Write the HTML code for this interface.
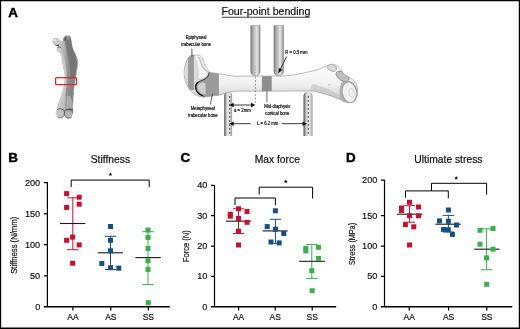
<!DOCTYPE html>
<html><head><meta charset="utf-8"><title>Figure</title>
<style>
html,body{margin:0;padding:0;background:#fff;}
body{width:520px;height:329px;overflow:hidden;position:relative;font-family:"Liberation Sans",sans-serif;}
svg{position:absolute;left:0;top:0;display:block;will-change:transform;}
text{font-family:"Liberation Sans",sans-serif;fill:#0d0d0d;stroke:#0d0d0d;stroke-width:0.18px;}
.frame{position:absolute;left:0;top:0;width:520px;height:329px;box-sizing:border-box;border-style:solid;border-color:#000;border-width:1.2px 1.3px 1.9px 1.2px;}
</style></head><body>
<svg width="520" height="329" viewBox="0 0 520 329">
<defs>
<filter id="bl" x="-10%" y="-10%" width="120%" height="120%"><feGaussianBlur stdDeviation="0.55"/></filter>
<filter id="bl2" x="-10%" y="-10%" width="120%" height="120%"><feGaussianBlur stdDeviation="0.4"/></filter>
<filter id="bt" x="-10%" y="-30%" width="120%" height="160%"><feGaussianBlur stdDeviation="0.28"/></filter>
<linearGradient id="fem" gradientUnits="userSpaceOnUse" x1="58" x2="78.5" y1="0" y2="0">
<stop offset="0" stop-color="#cdcdcd"/><stop offset="0.28" stop-color="#b4b4b4"/><stop offset="0.5" stop-color="#8e8e8e"/><stop offset="0.85" stop-color="#7e7e7e"/><stop offset="1" stop-color="#a4a4a4"/>
</linearGradient>
<linearGradient id="rod" x1="0" x2="1" y1="0" y2="0">
<stop offset="0" stop-color="#6c6c6c"/><stop offset="0.12" stop-color="#9a9a9a"/><stop offset="0.4" stop-color="#c2c2c2"/><stop offset="0.65" stop-color="#e6e6e6"/><stop offset="0.85" stop-color="#bcbcbc"/><stop offset="1" stop-color="#808080"/>
</linearGradient>
<linearGradient id="rod2" x1="0" x2="1" y1="0" y2="0">
<stop offset="0" stop-color="#4e4e4e"/><stop offset="0.14" stop-color="#858585"/><stop offset="0.3" stop-color="#cfcfcf"/><stop offset="0.6" stop-color="#ececec"/><stop offset="0.85" stop-color="#c6c6c6"/><stop offset="1" stop-color="#8a8a8a"/>
</linearGradient>
<linearGradient id="shaft" x1="0" x2="0" y1="0" y2="1">
<stop offset="0" stop-color="#f6f6f6"/><stop offset="0.35" stop-color="#fafafa"/><stop offset="0.62" stop-color="#f0f0f0"/><stop offset="0.82" stop-color="#dadada"/><stop offset="1" stop-color="#bebebe"/>
</linearGradient>
<clipPath id="fbclip"><path id="fbpath" d="M192.3 55 C188 56 184.5 63 184.1 72 C184 82 189 92 197 95.5 C201 97.5 205 97.2 208 96.6 L219 95.2 C225 93.5 229 91.6 235 91.2 L312 91 C322 92.5 332 96 340 99.5 C344 102.5 350 104 354 101.5 C358.5 98 358.5 88 355.5 82.5 C352 78 347 76.5 343.5 73.5 C341.5 69 337 64 331.5 64.2 C326 65 322 68.5 317 70 C305 72.5 295 75.5 284 76 L235 76.2 C226 75.5 217 73 209.7 72.4 C207.5 69 205 66.5 204.2 64 C203.5 59 201 55.5 198.5 55 Z"/></clipPath>
</defs>

<!-- left femur photo -->
<g filter="url(#bl)">
<path id="femp" d="M64.3 36.8 C64.8 35.8 65.2 35.3 65.8 35.2 C66.6 35.4 67.2 36 68.1 35.7 C69 35.2 70 35.8 70.4 36.8 C71 38 71.3 39.4 71.5 40.6 C71.8 42.4 71.9 44.2 72.2 46 C72.7 48 73.4 49.6 74.2 51.3 C75.2 53.4 76.2 55.4 76.9 57.4 C77.8 59.2 78.4 61 78.3 62.7 C78.2 64.8 77.7 66.8 77.2 68.8 C76.7 71 76.3 73.4 76 75.6 L75.7 77 C75.2 81.4 74.3 85.8 73.7 90 C73.5 93.4 73.4 96.8 73.4 100 C73.2 101.8 72.9 103.6 72.7 105.4 C72.8 106.8 73 108 73.1 109.2 C73.4 110.8 73.2 112.4 72.7 113.8 C72.2 115.6 71.6 116.8 70.4 117.6 C69.2 118.4 67.8 118.4 66.6 118 C65.6 117.4 64.8 116.4 64.3 115.3 C63.6 116.6 62.6 117.6 61.3 118 C60 118.4 58.6 117.8 57.5 116.8 C56.4 115.8 55.6 114.4 55.7 113 C55.8 111.4 56.4 110 57 108.7 C57.4 107 57.8 105.4 58.2 103.9 C58.9 101.8 59.7 99.8 60.5 97.8 C61.3 95.3 62.1 92.8 62.8 90.2 C63.8 86 64.6 81.6 65 77 C65 74.4 64.3 72 63.7 69.5 C63.1 66.4 62.5 63.4 61.9 60.4 C61.6 58.6 61.3 56.8 60.9 55.1 C60.6 54 60.2 53.2 59.8 52.8 C58.8 52.6 57.6 52.2 57 51.3 C56.4 50.4 56.3 49.2 56.7 48.2 C57.2 47.4 58.2 47 59 47 C58 46.6 57 46 56 45.2 C54.6 45 53.6 44.2 52.9 42.9 C52.3 42 52.3 40.8 52.6 39.9 C53 38.8 54 38 55.2 37.9 C56.3 37.7 57.4 37.8 58.2 38.4 C59 38.8 59.6 39.6 60.1 40.3 C60.7 40.9 61.4 41.3 62 41.4 C62.8 41 63.2 40 63.6 39.1 C63.9 38.3 64 37.5 64.3 36.8 Z" fill="url(#fem)"/>
<!-- darker upper right region -->
<path d="M64.6 37.2 C65.6 35.6 69.4 35.4 70.2 37.2 C71 40 71.2 43 71.8 46 C72.6 50 74.6 54 76 57.6 C77.2 60 77.6 63 77 66 C76.4 69 75.6 73 75.2 77 L70.8 77 C70.6 70 69.4 62 67.6 55 C66.4 49 64.8 42 64.6 37.2 Z" fill="#727272" opacity="0.8"/>
<path d="M75.3 77 C74.8 82 73.8 87 73.3 91 C73 96 73 101 72.6 105 L69 105 C69.8 96 70.4 86 70.8 77 Z" fill="#858585" opacity="0.7"/>
<!-- light left stripe on shaft -->
<path d="M60 53.4 C61.6 58 62.8 64 63.8 70 C64.6 75 64.8 80 64.2 85 C63.2 91 61.4 96 59.6 101 C58.6 104 57.6 107 56.8 110 L61.5 110 C63.2 103 65.4 96 66.2 89 C67 82 66.8 73 65.8 66 C65 61 63.8 56 62.6 53 Z" fill="#cfcfcf" opacity="0.75"/>
<path d="M58 104 C60 100 62 97 64 96 L70 96 C72 99 72.6 103 72.8 108 L57 109 Z" fill="#c4c4c4" opacity="0.55"/>
<!-- right rim highlight -->
<path d="M76.2 58.4 C77.6 61 77.8 64 77.2 67 C76.8 69.4 76.4 72 76 75" stroke="#b4b4b4" stroke-width="0.9" fill="none" opacity="0.9"/>
<!-- femoral head -->
<circle cx="55.6" cy="41" r="2.9" fill="#c6c6c6"/>
<circle cx="55" cy="40.2" r="1.3" fill="#e6e6e6"/>
<path d="M53.6 43.8 C55 45.2 57 45.4 58.6 44.6 L59.4 46.6 L55.6 45.6 Z" fill="#222" opacity="0.85"/>
<ellipse cx="59.3" cy="50" rx="2.3" ry="1.9" fill="#cdcdcd"/>
<path d="M57.2 47.8 C58.4 46.8 60.4 47 61.4 48.2" stroke="#444" stroke-width="0.8" fill="none" opacity="0.8"/>
<!-- trochanter notch -->
<path d="M63 38.4 L65.6 36.4 L66.2 40 L63.8 41.6 Z" fill="#555" opacity="0.6"/>
<path d="M66.4 36 L69.4 36 L69.8 39.4 L67 39.4 Z" fill="#9c9c9c" opacity="0.8"/>
<!-- condyles -->
<ellipse cx="59.7" cy="113.6" rx="3.3" ry="3.6" fill="#c3c3c3"/>
<ellipse cx="68.6" cy="114.2" rx="3.3" ry="3.4" fill="#b4b4b4"/>
<path d="M57 109.6 C59.6 108 62.6 108.8 64.4 111 C66.4 109 70 108.6 72.8 110.4" stroke="#333" stroke-width="0.9" fill="none" opacity="0.75"/>
<path d="M57.6 117 C60 118.6 62.6 118 63.8 116.2 M65.2 116.6 C67.2 118.8 70.4 118.6 72 116.6" stroke="#444" stroke-width="0.9" fill="none" opacity="0.7"/>
<path d="M64.4 111.4V115.6" stroke="#333" stroke-width="0.9" opacity="0.7"/>
<path d="M66.4 88 C66.8 95 66.4 102 65.6 108" stroke="#7d7d7d" stroke-width="1.1" fill="none" opacity="0.55"/>
<path d="M72.6 93.6l1.4 .6" stroke="#555" stroke-width="0.8"/>
</g>
<rect x="55.6" y="77.6" width="20.9" height="7.1" rx="1" ry="1" fill="none" stroke="#e3222a" stroke-width="1.3"/>

<!-- four point bending diagram -->
<g filter="url(#bl2)">
<!-- support rods -->
<path d="M224.2 136V95.4 A3.95 3.95 0 0 1 232.1 95.4 V136Z" fill="url(#rod2)"/>
<path d="M303.5 136V95.8 A4.5 4.4 0 0 1 312.5 95.8 V136Z" fill="url(#rod2)"/>
<!-- loading rods -->
<path d="M250.7 25.4V71.6 A4.7 4.4 0 0 0 260.1 71.6 V25.4Z" fill="url(#rod)" stroke="#777" stroke-width="0.4"/>
<path d="M273.9 25.4V71.4 A4.8 4.6 0 0 0 283.5 71.4 V25.4Z" fill="url(#rod)" stroke="#777" stroke-width="0.4"/>
<!-- bone -->
<use href="#fbpath" fill="url(#shaft)"/>
<g clip-path="url(#fbclip)">
<!-- epiphyseal band -->
<rect x="187.7" y="50" width="6.6" height="40" fill="#9b9b9b"/>
<path d="M184 58 H187.7 V90 H186 Z" fill="#dadada"/>
<path d="M194.3 52 H206 V80 L197.6 82.6 L195.2 88.6 L194.3 88.6 Z" fill="#f4f4f4"/>
<path d="M194.3 54 C196 58 197.4 62 198.2 66 C198.8 70 199 75 199.4 80.6 L196.4 82.8 L194.3 88 Z" fill="#d9d9d9"/>
<path d="M198.6 57 C200.4 60 201.4 63.6 202.6 66.8 C204.4 69.6 207.2 71 208.6 73.4" stroke="#c4c4c4" stroke-width="1.6" fill="none"/>
<path d="M199.6 80 C203 79.6 206.6 78 208.2 75" stroke="#bdbdbd" stroke-width="1.8" fill="none"/>
<!-- metaphyseal band -->
<path d="M208.8 72 C208 76.5 205 79.6 200.4 81 C196.4 82.4 194.6 86 196 89.6 C197.6 93.6 201.6 96.2 205 97.4 L219 96 L218.8 72 Z" fill="#9b9b9b"/>
<path d="M199.4 83.6 C202 82 204.6 82 205.4 84 L205.6 94.4 C202.4 94.6 199 92.4 197.8 89.2 C197 86.8 197.8 84.6 199.4 83.6 Z" fill="#cfcfcf"/>
<!-- mid diaphysis -->
<rect x="261.9" y="74" width="9.8" height="19" fill="#8e8e8e"/>
<!-- right end shading -->
<path d="M300 91 C314 91.6 330 95.6 341 100.4 L346 106 L298 106 Z" fill="#b4b4b4" opacity="0.55"/>
<path d="M312 84 C322 86 332 90 340 96 L342 101 C332 96 320 92.6 310 91.4 Z" fill="#c6c6c6" opacity="0.7"/>
<path d="M343 80 C339.6 84 338.6 92 340.6 99 L345 102 L346 82 Z" fill="#a9a9a9" opacity="0.8"/>
<ellipse cx="332" cy="67.9" rx="4.7" ry="3.3" fill="#dadada" stroke="#a2a2a2" stroke-width="0.7" transform="rotate(18 332 67.9)"/>
<ellipse cx="342.6" cy="76.3" rx="7.2" ry="4.2" fill="#bdbdbd" stroke="#8c8c8c" stroke-width="0.8" transform="rotate(32 342.6 76.3)"/>
<ellipse cx="349.4" cy="92.2" rx="7.3" ry="10.5" fill="#f1f1f1" stroke="#a0a0a0" stroke-width="1.3" transform="rotate(-10 349.4 92.2)"/>
<ellipse cx="351.6" cy="93" rx="2.6" ry="4.6" fill="none" stroke="#d2d2d2" stroke-width="0.9" transform="rotate(-10 351.6 93)"/>
<circle cx="329.2" cy="84.8" r="0.8" fill="#c2c2c2"/>
</g>
<!-- growth plate line -->
<path d="M209.2 72.6 C208.8 76.8 205.6 79.4 200.8 80.8 C196.8 82.2 194.8 85.8 196 89.4 C197.4 93.2 201 95.6 205 96.8" stroke="#2a2a2a" stroke-width="0.9" fill="none"/>
<path d="M198.6 81.8 C196 83.4 195 86.4 196 89.4 C197.2 92.6 199.8 94.6 202.6 95.8" stroke="#1a1a1a" stroke-width="1.3" fill="none"/>
<use href="#fbpath" fill="none" stroke="#9d9d9d" stroke-width="0.7"/>
</g>
<!-- guide lines -->
<g stroke="#222" fill="none" filter="url(#bt)">
<path d="M191.9 48.8V56.6" stroke-width="0.7"/>
<path d="M212.4 93.8L210.4 104.6" stroke-width="0.7"/>
<path d="M266.9 91.4V102" stroke-width="0.7"/>
<path d="M255.4 76.6V104.6" stroke-width="0.6" stroke-dasharray="1.8 1.7" stroke="#555"/>
<path d="M229.8 96V134" stroke-width="1" stroke-dasharray="1.9 2.1" stroke="#3a3a3a"/>
<path d="M308.2 96V134" stroke-width="1" stroke-dasharray="1.9 2.1" stroke="#3a3a3a"/>
<path d="M255.4 66V73" stroke-width="0.5" stroke-dasharray="1.2 1.8" stroke="#888"/>
<path d="M233 105H252" stroke-width="0.9"/>
<path d="M233 123.7H250.6M281.6 123.7H303.6" stroke-width="0.9"/>
<path d="M286.6 56.6L280.4 69.2" stroke-width="0.9"/>
</g>
<g fill="#111" filter="url(#bt)">
<path d="M229.3 105l4.4-2.2v4.4z"/><path d="M255.4 105l-4.4-2.2v4.4z"/>
<path d="M229.3 123.7l4.4-2.2v4.4z"/><path d="M307 123.7l-4.4-2.2v4.4z"/>
<path d="M278.3 73.4L282.3 69.8L278.7 68z"/>
</g>
<g font-size="4.85" text-anchor="middle" filter="url(#bt)" style="fill:#111">
<text transform="translate(196.1 39.2) scale(0.88 1)">Epiphyseal</text>
<text transform="translate(196.1 45.6) scale(0.88 1)">trabecular bone</text>
<text transform="translate(202.8 109.8) scale(0.88 1)">Metaphyseal</text>
<text transform="translate(202.8 116.6) scale(0.88 1)">trabecular bone</text>
<text transform="translate(277.3 108.3) scale(0.88 1)">Mid-diaphysis</text>
<text transform="translate(277.3 115) scale(0.88 1)">cortical bone</text>
<text transform="translate(242.4 112.1) scale(0.88 1)">a = 2mm</text>
<text transform="translate(267.8 124.8) scale(0.88 1)">L = 6.2 mm</text>
<text transform="translate(296.4 53.8) scale(0.88 1)">R = 0.5 mm</text>
</g>

<path d="M47.4 182.1V307.0M43.8 182.6H47.4M43.8 213.8H47.4M43.8 244.6H47.4M43.8 275.8H47.4M72.9 307.0v3.6M110.8 307.0v3.6M148.3 307.0v3.6" stroke="#000" stroke-width="1.2" fill="none"/>
<path d="M43.8 306.85H169.8" stroke="#000" stroke-width="1.5" fill="none"/>
<text x="40.199999999999996" y="185.6" font-size="9.1" text-anchor="end" >200</text>
<text x="40.199999999999996" y="216.8" font-size="9.1" text-anchor="end" >150</text>
<text x="40.199999999999996" y="247.6" font-size="9.1" text-anchor="end" >100</text>
<text x="40.199999999999996" y="278.8" font-size="9.1" text-anchor="end" >50</text>
<text x="40.199999999999996" y="310.0" font-size="9.1" text-anchor="end" >0</text>
<text x="72.9" y="320.4" font-size="8.5" text-anchor="middle" >AA</text>
<text x="110.8" y="320.4" font-size="8.5" text-anchor="middle" >AS</text>
<text x="148.3" y="320.4" font-size="8.5" text-anchor="middle" >SS</text>
<text transform="translate(16.6 245.3) rotate(-90) scale(0.81 1)" font-size="9.5" text-anchor="middle">Stiffness (N/mm)</text>
<text x="110.4" y="163" font-size="10.3" text-anchor="middle" >Stiffness</text>
<polygon points="110.40,172.40 110.96,173.63 112.30,173.78 111.30,174.69 111.58,176.02 110.40,175.35 109.22,176.02 109.50,174.69 108.50,173.78 109.84,173.63" fill="#111"/>
<path d="M71.2 187.2V180.1H149.2V187.2" stroke="#000" stroke-width="1" fill="none"/>
<path d="M72.80 197.80V249.70M67.10 197.80H78.50M67.10 249.70H78.50" stroke="#c8102e" stroke-width="1" fill="none"/>
<path d="M60.00 223.50H85.40" stroke="#1a1a1a" stroke-width="1.1" fill="none"/>
<rect x="64.10" y="191.10" width="5.0" height="5.0" fill="#c8102e"/>
<rect x="76.70" y="194.70" width="5.0" height="5.0" fill="#c8102e"/>
<rect x="76.70" y="201.70" width="5.0" height="5.0" fill="#c8102e"/>
<rect x="64.10" y="204.90" width="5.0" height="5.0" fill="#c8102e"/>
<rect x="70.10" y="234.60" width="5.0" height="5.0" fill="#c8102e"/>
<rect x="64.10" y="237.80" width="5.0" height="5.0" fill="#c8102e"/>
<rect x="76.70" y="242.40" width="5.0" height="5.0" fill="#c8102e"/>
<rect x="70.10" y="260.70" width="5.0" height="5.0" fill="#c8102e"/>
<path d="M110.50 236.30V269.50M104.80 236.30H116.20M104.80 269.50H116.20" stroke="#164f86" stroke-width="1" fill="none"/>
<path d="M97.70 252.80H123.00" stroke="#1a1a1a" stroke-width="1.1" fill="none"/>
<rect x="108.00" y="224.00" width="5.0" height="5.0" fill="#164f86"/>
<rect x="108.00" y="237.80" width="5.0" height="5.0" fill="#164f86"/>
<rect x="108.00" y="248.30" width="5.0" height="5.0" fill="#164f86"/>
<rect x="99.30" y="261.00" width="5.0" height="5.0" fill="#164f86"/>
<rect x="108.00" y="265.20" width="5.0" height="5.0" fill="#164f86"/>
<rect x="116.30" y="265.70" width="5.0" height="5.0" fill="#164f86"/>
<path d="M148.00 231.70V284.60M142.30 231.70H153.70M142.30 284.60H153.70" stroke="#39b04a" stroke-width="1" fill="none"/>
<path d="M135.40 257.60H160.80" stroke="#1a1a1a" stroke-width="1.1" fill="none"/>
<rect x="145.50" y="227.50" width="5.0" height="5.0" fill="#39b04a"/>
<rect x="145.50" y="234.90" width="5.0" height="5.0" fill="#39b04a"/>
<rect x="145.50" y="246.00" width="5.0" height="5.0" fill="#39b04a"/>
<rect x="145.50" y="258.30" width="5.0" height="5.0" fill="#39b04a"/>
<rect x="145.50" y="266.90" width="5.0" height="5.0" fill="#39b04a"/>
<rect x="145.80" y="300.20" width="5.0" height="5.0" fill="#39b04a"/>
<path d="M214.5 184.9V307.0M210.9 185.4H214.5M210.9 215.7H214.5M210.9 246.2H214.5M210.9 276.4H214.5M238.6 307.0v3.6M275.2 307.0v3.6M312.2 307.0v3.6" stroke="#000" stroke-width="1.2" fill="none"/>
<path d="M210.9 306.85H336.2" stroke="#000" stroke-width="1.5" fill="none"/>
<text x="207.3" y="188.4" font-size="9.1" text-anchor="end" >40</text>
<text x="207.3" y="218.7" font-size="9.1" text-anchor="end" >30</text>
<text x="207.3" y="249.2" font-size="9.1" text-anchor="end" >20</text>
<text x="207.3" y="279.4" font-size="9.1" text-anchor="end" >10</text>
<text x="207.3" y="310.0" font-size="9.1" text-anchor="end" >0</text>
<text x="238.6" y="320.4" font-size="8.5" text-anchor="middle" >AA</text>
<text x="275.2" y="320.4" font-size="8.5" text-anchor="middle" >AS</text>
<text x="312.2" y="320.4" font-size="8.5" text-anchor="middle" >SS</text>
<text transform="translate(188.6 246.2) rotate(-90) scale(0.8 1)" font-size="9.5" text-anchor="middle">Force (N)</text>
<text x="277.3" y="163" font-size="10.3" text-anchor="middle" >Max force</text>
<polygon points="285.80,179.60 286.36,180.83 287.70,180.98 286.70,181.89 286.98,183.22 285.80,182.55 284.62,183.22 284.90,181.89 283.90,180.98 285.24,180.83" fill="#111"/>
<path d="M235 205.2V198H275.4V205.2" stroke="#000" stroke-width="1" fill="none"/>
<path d="M259.2 194.6V187.2H312.6V198.5" stroke="#000" stroke-width="1" fill="none"/>
<path d="M238.50 208.80V233.50M232.80 208.80H244.20M232.80 233.50H244.20" stroke="#c8102e" stroke-width="1" fill="none"/>
<path d="M225.80 221.20H251.00" stroke="#1a1a1a" stroke-width="1.1" fill="none"/>
<rect x="236.00" y="206.30" width="5.0" height="5.0" fill="#c8102e"/>
<rect x="244.50" y="209.00" width="5.0" height="5.0" fill="#c8102e"/>
<rect x="227.80" y="211.70" width="5.0" height="5.0" fill="#c8102e"/>
<rect x="227.80" y="213.70" width="5.0" height="5.0" fill="#c8102e"/>
<rect x="236.00" y="216.00" width="5.0" height="5.0" fill="#c8102e"/>
<rect x="244.50" y="219.80" width="5.0" height="5.0" fill="#c8102e"/>
<rect x="236.00" y="228.70" width="5.0" height="5.0" fill="#c8102e"/>
<rect x="236.00" y="242.50" width="5.0" height="5.0" fill="#c8102e"/>
<path d="M275.40 219.30V243.40M269.70 219.30H281.10M269.70 243.40H281.10" stroke="#164f86" stroke-width="1" fill="none"/>
<path d="M262.50 230.90H287.70" stroke="#1a1a1a" stroke-width="1.1" fill="none"/>
<rect x="272.90" y="208.30" width="5.0" height="5.0" fill="#164f86"/>
<rect x="264.70" y="224.10" width="5.0" height="5.0" fill="#164f86"/>
<rect x="272.90" y="226.70" width="5.0" height="5.0" fill="#164f86"/>
<rect x="281.30" y="231.00" width="5.0" height="5.0" fill="#164f86"/>
<rect x="268.50" y="239.50" width="5.0" height="5.0" fill="#164f86"/>
<rect x="276.70" y="240.40" width="5.0" height="5.0" fill="#164f86"/>
<path d="M311.80 244.50V278.40M306.10 244.50H317.50M306.10 278.40H317.50" stroke="#39b04a" stroke-width="1" fill="none"/>
<path d="M299.20 261.30H325.00" stroke="#1a1a1a" stroke-width="1.1" fill="none"/>
<rect x="303.30" y="245.80" width="5.0" height="5.0" fill="#39b04a"/>
<rect x="303.30" y="248.50" width="5.0" height="5.0" fill="#39b04a"/>
<rect x="316.00" y="244.80" width="5.0" height="5.0" fill="#39b04a"/>
<rect x="316.00" y="255.90" width="5.0" height="5.0" fill="#39b04a"/>
<rect x="309.30" y="268.20" width="5.0" height="5.0" fill="#39b04a"/>
<rect x="309.70" y="288.20" width="5.0" height="5.0" fill="#39b04a"/>
<path d="M384.5 179.7V307.0M380.9 180.2H384.5M380.9 215.6H384.5M380.9 246.2H384.5M380.9 276.4H384.5M409.2 307.0v3.6M448.6 307.0v3.6M486.8 307.0v3.6" stroke="#000" stroke-width="1.2" fill="none"/>
<path d="M380.9 306.85H512.3" stroke="#000" stroke-width="1.5" fill="none"/>
<text x="377.3" y="183.2" font-size="9.1" text-anchor="end" >200</text>
<text x="377.3" y="218.6" font-size="9.1" text-anchor="end" >150</text>
<text x="377.3" y="249.2" font-size="9.1" text-anchor="end" >100</text>
<text x="377.3" y="279.4" font-size="9.1" text-anchor="end" >50</text>
<text x="377.3" y="310.0" font-size="9.1" text-anchor="end" >0</text>
<text x="409.2" y="320.4" font-size="8.5" text-anchor="middle" >AA</text>
<text x="448.6" y="320.4" font-size="8.5" text-anchor="middle" >AS</text>
<text x="486.8" y="320.4" font-size="8.5" text-anchor="middle" >SS</text>
<text transform="translate(354.8 244) rotate(-90) scale(0.76 1)" font-size="9.5" text-anchor="middle">Stress (MPa)</text>
<text x="448.4" y="163" font-size="10.3" text-anchor="middle" >Ultimate stress</text>
<polygon points="456.20,176.10 456.76,177.33 458.10,177.48 457.10,178.39 457.38,179.72 456.20,179.05 455.02,179.72 455.30,178.39 454.30,177.48 455.64,177.33" fill="#111"/>
<path d="M405.5 197.7V190.9H448.3V198.3" stroke="#000" stroke-width="1" fill="none"/>
<path d="M431.5 190.9V183.3H486.6V194.6" stroke="#000" stroke-width="1" fill="none"/>
<path d="M409.50 205.70V222.20M403.80 205.70H415.20M403.80 222.20H415.20" stroke="#c8102e" stroke-width="1" fill="none"/>
<path d="M397.00 214.20H422.30" stroke="#1a1a1a" stroke-width="1.1" fill="none"/>
<rect x="407.00" y="199.80" width="5.0" height="5.0" fill="#c8102e"/>
<rect x="399.00" y="205.50" width="5.0" height="5.0" fill="#c8102e"/>
<rect x="399.00" y="208.00" width="5.0" height="5.0" fill="#c8102e"/>
<rect x="416.00" y="204.50" width="5.0" height="5.0" fill="#c8102e"/>
<rect x="407.00" y="213.20" width="5.0" height="5.0" fill="#c8102e"/>
<rect x="416.00" y="213.30" width="5.0" height="5.0" fill="#c8102e"/>
<rect x="402.90" y="222.10" width="5.0" height="5.0" fill="#c8102e"/>
<rect x="411.30" y="224.30" width="5.0" height="5.0" fill="#c8102e"/>
<rect x="407.00" y="242.50" width="5.0" height="5.0" fill="#c8102e"/>
<path d="M448.40 215.40V232.00M442.70 215.40H454.10M442.70 232.00H454.10" stroke="#164f86" stroke-width="1" fill="none"/>
<path d="M435.40 224.20H460.80" stroke="#1a1a1a" stroke-width="1.1" fill="none"/>
<rect x="445.90" y="207.50" width="5.0" height="5.0" fill="#164f86"/>
<rect x="437.00" y="218.40" width="5.0" height="5.0" fill="#164f86"/>
<rect x="445.90" y="218.80" width="5.0" height="5.0" fill="#164f86"/>
<rect x="454.00" y="222.50" width="5.0" height="5.0" fill="#164f86"/>
<rect x="441.10" y="226.90" width="5.0" height="5.0" fill="#164f86"/>
<rect x="445.80" y="227.30" width="5.0" height="5.0" fill="#164f86"/>
<rect x="449.90" y="231.90" width="5.0" height="5.0" fill="#164f86"/>
<path d="M486.60 228.80V269.70M480.90 228.80H492.30M480.90 269.70H492.30" stroke="#39b04a" stroke-width="1" fill="none"/>
<path d="M474.30 249.20H499.50" stroke="#1a1a1a" stroke-width="1.1" fill="none"/>
<rect x="477.50" y="227.80" width="5.0" height="5.0" fill="#39b04a"/>
<rect x="490.50" y="226.00" width="5.0" height="5.0" fill="#39b04a"/>
<rect x="477.50" y="241.70" width="5.0" height="5.0" fill="#39b04a"/>
<rect x="490.50" y="246.70" width="5.0" height="5.0" fill="#39b04a"/>
<rect x="484.10" y="255.40" width="5.0" height="5.0" fill="#39b04a"/>
<rect x="484.20" y="281.80" width="5.0" height="5.0" fill="#39b04a"/>
<text x="8.3" y="17.4" font-size="13.4" font-weight="bold" style="fill:#000;stroke:#000;stroke-width:0.45px">A</text>
<text x="8.3" y="162.3" font-size="13.4" font-weight="bold" style="fill:#000;stroke:#000;stroke-width:0.45px">B</text>
<text x="180.5" y="162.3" font-size="13.4" font-weight="bold" style="fill:#000;stroke:#000;stroke-width:0.45px">C</text>
<text x="346.1" y="162.3" font-size="13.4" font-weight="bold" style="fill:#000;stroke:#000;stroke-width:0.45px">D</text>
<text x="265.9" y="15.3" font-size="10.6" text-anchor="middle" >Four-point bending</text>
<path d="M222 17.25H309.8" stroke="#111" stroke-width="0.8"/>
<path d="M0 0H520V329H0Z M1.15 1.15V327.4H518.8V1.15Z" fill="#000" fill-rule="evenodd"/>
</svg>
</body></html>
